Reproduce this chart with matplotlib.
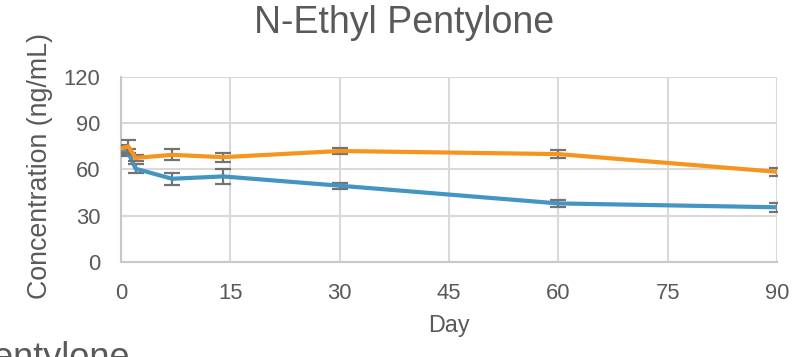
import matplotlib
matplotlib.use("Agg")
import matplotlib.pyplot as plt

# Storage stability of N-Ethyl Pentylone: measured concentration over time
days = [0, 1, 2, 7, 14, 30, 60, 90]
series_a = [73.5, 75.0, 67.5, 69.5, 68.0, 72.0, 70.0, 58.5]   # orange
series_a_sd = [2.5, 4.0, 2.0, 3.5, 3.0, 2.0, 2.5, 2.5]
series_b = [72.0, 71.0, 60.5, 54.0, 55.5, 49.5, 38.0, 35.5]   # blue
series_b_sd = [2.0, 2.0, 3.0, 4.0, 5.0, 2.0, 2.5, 3.0]

x_ticks = [0, 15, 30, 45, 60, 75, 90]
y_ticks = [0, 30, 60, 90, 120]

title = "N-Ethyl Pentylone"
x_label = "Day"
y_label = "Concentration (ng/mL)"

plt.rcParams["font.family"] = ["Liberation Sans", "DejaVu Sans"]
text_color = "#595959"
grid_color = "#d9d9d9"
orange = "#f7941e"
blue = "#4395c4"
err_color = "#737373"

fig = plt.figure(figsize=(8.02, 3.57), dpi=100)
ax = fig.add_axes([121 / 802, (357 - 262) / 357, 656 / 802, 185 / 357])

err_kw = dict(ecolor=err_color, elinewidth=1.6, capsize=5.5, capthick=1.6)
ax.errorbar(days, series_b, yerr=series_b_sd, color=blue, lw=3.0,
            zorder=3, **err_kw)
ax.errorbar(days, series_a, yerr=series_a_sd, color=orange, lw=3.0,
            zorder=4, **err_kw)

ax.set_xlim(0, 90)
ax.set_ylim(0, 120)
ax.set_xticks(x_ticks)
ax.set_yticks(y_ticks)
ax.grid(True, color=grid_color, lw=1.5, zorder=0)
ax.set_axisbelow(True)

for side in ("top", "right"):
    ax.spines[side].set_visible(False)
for side in ("left", "bottom"):
    ax.spines[side].set_color("#c8c8c8")
    ax.spines[side].set_linewidth(1.5)

ax.tick_params(length=0, labelsize=15.8, labelcolor=text_color)
ax.tick_params(axis="y", pad=15)
ax.tick_params(axis="x", pad=15)
ax.set_xlabel(x_label, fontsize=16.8, color=text_color, labelpad=7)
ax.set_ylabel(y_label, fontsize=19.3, color=text_color)
ax.yaxis.set_label_coords(-0.104, 0.52)

fig.text(404 / 802, 1 - 33 / 357, title,
         ha="center", va="baseline", fontsize=27, color=text_color)

# caption of the chart below, clipped by the figure edge
fig.text(129 / 802, (357 - 368) / 357, "Pentylone", ha="right",
         va="baseline", fontsize=26, color=text_color)

fig.savefig("out.png", dpi=100)
